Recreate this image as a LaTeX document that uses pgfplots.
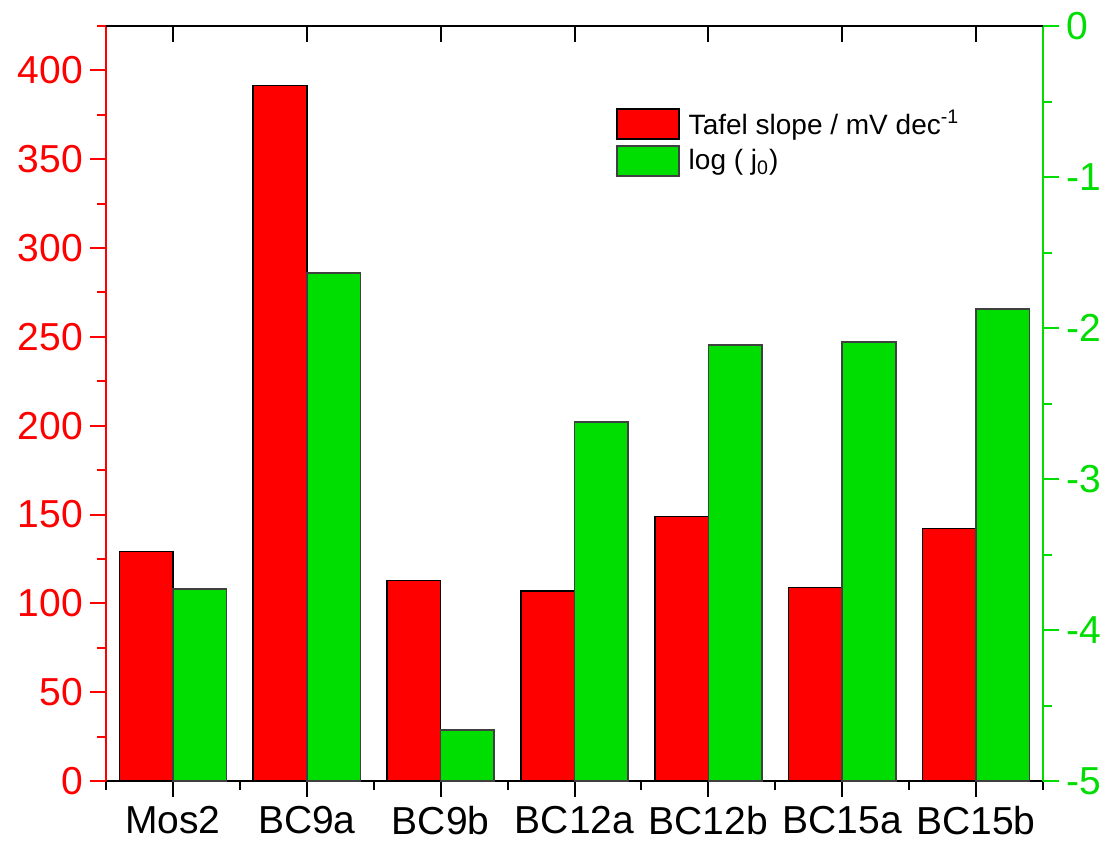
\documentclass[border=0pt]{standalone}
\usepackage{pgfplots}
\pgfplotsset{compat=1.18}
\usepackage{fontspec}
\setmainfont{Liberation Sans}
\definecolor{ored}{RGB}{255,0,0}
\definecolor{ogreen}{RGB}{0,221,0}

\pgfplotsset{
  common/.style={
    scale only axis, width=468.5pt, height=377.5pt,
    xmin=-0.5, xmax=6.5,
    major tick length=8pt, minor tick length=4.5pt,
    /pgf/number format/assume math mode=true,
    tick label style={font=\fontsize{19.5}{22}\selectfont},
  },
  legbox/.style={legend image code/.code={\draw[##1] (0pt,-7.5pt) rectangle (31pt,7.5pt);}},
}

\begin{document}
\begin{tikzpicture}
\begin{axis}[common, name=main,
  ymin=0, ymax=425,
  axis y line*=left, axis x line*=bottom,
  x axis line style={black, line width=1pt, -},
  y axis line style={ored, line width=1pt, -},
  ytick={0,50,...,400}, minor ytick={25,75,...,425},
  ytick style={ored, line width=1pt},
  every minor y tick/.append style={ored, line width=1pt},
  every major y tick/.append style={ored, line width=1pt},
  yticklabel style={text=ored},
  xtick={0,...,6}, xticklabels={Mos2,BC9a,BC9b,BC12a,BC12b,BC15a,BC15b},
  minor xtick={-0.5,0.5,...,6.5},
  xtick style={black, line width=1pt},
  every minor x tick/.append style={black, line width=1pt},
  xticklabel style={yshift=-1pt},
  tick align=outside,
  ybar, bar width=0.4,
]
\addplot[fill=ored, draw=black, line width=0.8pt, bar shift=-0.2]
  coordinates {(0,129.1) (1,391.4) (2,112.8) (3,107.0) (4,148.8) (5,108.9) (6,142.1)};
\end{axis}

\begin{axis}[common,
  ymin=0, ymax=5,
  axis y line*=right, axis x line=none,
  y axis line style={ogreen, line width=1pt, -},
  ytick={0,...,5}, yticklabels={-5,-4,-3,-2,-1,0},
  minor ytick={0.5,1.5,...,4.5},
  ytick style={ogreen, line width=1pt},
  every minor y tick/.append style={ogreen, line width=1pt},
  every major y tick/.append style={ogreen, line width=1pt},
  yticklabel style={text=ogreen},
  tick align=outside,
  ybar, bar width=0.4,
  legend style={at={(rel axis cs:0.544,0.894)}, anchor=north west, draw=none, fill=none,
    inner sep=0pt, row sep=2pt, font=\fontsize{14}{16}\selectfont,
    cells={anchor=west}, nodes={inner xsep=4.5pt}},
]
\addlegendimage{legbox, fill=ored, draw=black, line width=0.8pt}
\addlegendentry{Tafel slope / mV dec\textsuperscript{-1}}
\addplot[fill=ogreen, draw=black!75, line width=0.8pt, bar shift=0.2, legbox,
  y filter/.expression={y+5}]
  coordinates {(0,-3.73) (1,-1.634) (2,-4.662) (3,-2.623) (4,-2.111) (5,-2.093) (6,-1.876)};
\addlegendentry{log ( j\textsubscript{0})}
\end{axis}

\begin{axis}[common,
  ymin=0, ymax=1,
  axis x line*=top, axis y line=none,
  x axis line style={black, line width=1pt, -},
  xtick={0,...,6}, xticklabels={},
  xtick style={black, line width=1pt},
  tick align=inside,
]
\end{axis}

\pgfresetboundingbox
\path (main.south west) ++(-53pt,-30.5pt) rectangle ++(553.5pt,421pt);
\end{tikzpicture}
\end{document}
